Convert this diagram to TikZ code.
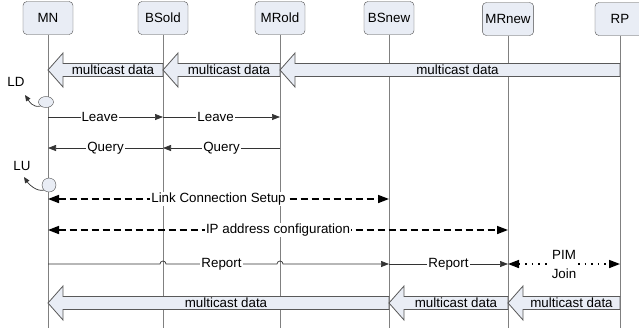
\documentclass[tikz,border=0pt]{standalone}
\usepackage{fontspec}
\setmainfont{Liberation Sans}
\usetikzlibrary{arrows.meta,calc,shapes.geometric}
\definecolor{boxfill}{RGB}{233,237,245}

\begin{document}
\begin{tikzpicture}[
  x=1bp, y=-1bp,
  every node/.style={font=\fontsize{13.4}{14}\selectfont},
  entity/.style={draw=black!70, fill=boxfill, rounded corners=4bp,
    minimum width=50bp, minimum height=33bp, inner sep=3bp},
  lifeline/.style={draw=black!50, line width=0.8bp},
  event/.style={ellipse, draw=black!70, fill=boxfill, inner sep=0pt},
  turn/.style={draw=black!80, line width=0.7bp, -{Triangle[length=6bp,width=5bp]}},
  msg/.style={draw=black!80, line width=0.7bp, -{Triangle[length=8bp,width=6bp]}},
  setup/.style={draw=black, line width=1.6bp, dash pattern=on 7bp off 4bp,
    {Triangle[length=11bp,width=8bp]}-{Triangle[length=11bp,width=8bp]}},
  pim/.style={draw=black, line width=1.6bp, dash pattern=on 1.6bp off 5bp,
    {Triangle[length=11bp,width=8bp]}-{Triangle[length=11bp,width=8bp]}},
  fat/.style={draw=black!65, fill=boxfill, line width=0.8bp},
  lbl/.style={fill=white, inner sep=1bp},
  datalbl/.style={inner sep=0pt},
]
  \clip (0,0) rectangle (639,333);

  \node[entity] (mn) at (48,18) {MN};
  \node[entity] (bsold) at (163,18) {BSold};
  \node[entity] (mrold) at (280,18) {MRold};
  \node[entity] (bsnew) at (389,18) {BSnew};
  \node[entity] (mrnew) at (508,19) {MRnew};
  \node[entity] (rp) at (620,19) {RP};

  \coordinate (bottom) at (0,328);
  \coordinate (datatop) at (0,70);
  \coordinate (leave) at (0,117);
  \coordinate (query) at (0,148);
  \coordinate (link) at (0,199);
  \coordinate (ipconf) at (0,230);
  \coordinate (report) at (0,264);
  \coordinate (databot) at (0,303);

  \foreach \ent in {mn,bsold,mrold,bsnew,mrnew,rp}
    \draw[lifeline] (\ent.south) -- (\ent |- bottom);

  \foreach \src/\dst/\row in {bsold/mn/datatop, mrold/bsold/datatop, rp/mrold/datatop,
                             bsnew/mn/databot, mrnew/bsnew/databot, rp/mrnew/databot}
    \draw[fat] (\src |- \row) ++(0,-6.5) -- ($(\dst |- \row)+(15,-6.5)$) -- ++(0,-10.5)
      -- (\dst |- \row) -- ($(\dst |- \row)+(15,17)$) -- ++(0,-10.5)
      -- ($(\src |- \row)+(0,6.5)$) -- cycle
      ($(\src |- \row)!0.5!(\dst |- \row)+(7.5,0)$) node[datalbl] (\src-\dst) {multicast data};

  \node (ldtxt) at (16,82) {LD};
  \node[event, minimum width=15bp, minimum height=11bp] (ld) at (46,102) {};
  \coordinate (ldtip) at (25,95);
  \draw[turn] (ld.south west) .. controls +(-8,2) and +(4,6) .. (ldtip);

  \draw[msg] (mn |- leave) -- node[lbl, pos=0.45] (leave1) {Leave} (bsold |- leave);
  \draw[msg] (bsold |- leave) -- node[lbl, pos=0.45] (leave2) {Leave} (mrold |- leave);
  \draw[msg] (mrold |- query) -- node[lbl] (query2) {Query} (bsold |- query);
  \draw[msg] (bsold |- query) -- node[lbl] (query1) {Query} (mn |- query);

  \node (lutxt) at (22,166) {LU};
  \node[event, minimum width=14bp, minimum height=14bp] (lu) at (49,185) {};
  \coordinate (lutip) at (24,177);
  \draw[turn] (lu.south west) .. controls +(-8,2) and +(4,6) .. (lutip);

  \draw[setup] (mn |- link) -- node[lbl] (linklbl) {Link Connection Setup} (bsnew |- link);
  \draw[setup] (mn |- ipconf) -- node[lbl] (iplbl) {IP address configuration} (mrnew |- ipconf);

  \draw[msg] (mn |- report) -- ($(bsold |- report)+(-3,0)$) arc[start angle=180, end angle=0, radius=3bp]
    -- node[lbl] (report1) {Report} ($(mrold |- report)+(-3,0)$) arc[start angle=180, end angle=0, radius=3bp]
    -- (bsnew |- report);
  \draw[msg] (bsnew |- report) -- node[lbl] (report2) {Report} (mrnew |- report);
  \draw[pim] (mrnew |- report) -- node[lbl, align=center, font=\fontsize{13.4}{19}\selectfont] (pimlbl) {PIM\\Join} (rp |- report);
\end{tikzpicture}
\end{document}
